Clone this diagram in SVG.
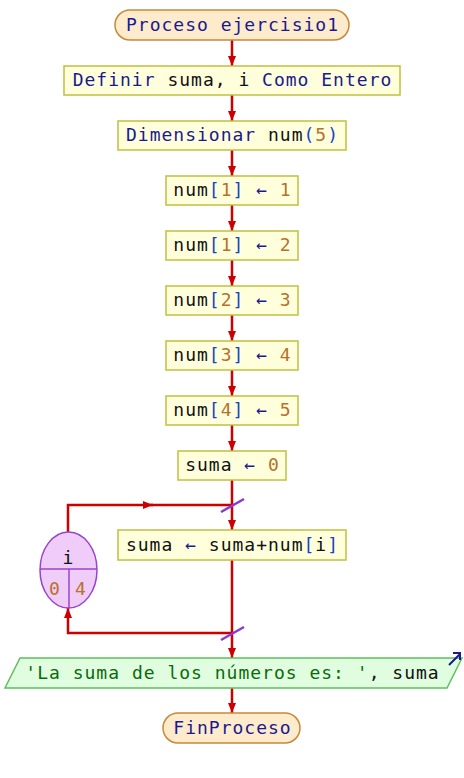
<svg xmlns="http://www.w3.org/2000/svg" width="464" height="778" viewBox="0 0 464 778">
  <defs>
    <marker id="ah" markerWidth="10" markerHeight="8" refX="10" refY="4" orient="auto" markerUnits="userSpaceOnUse">
      <path d="M0,0 L10,4 L0,8 Z" fill="#cc0000"/>
    </marker>
  </defs>
  <style>
    text { font-family: "DejaVu Sans Mono", "Liberation Mono", monospace; font-size: 18px; letter-spacing: 1px; }
    .term { fill: #fdebcb; stroke: #c8883a; stroke-width: 1.5; }
    .proc { fill: #ffffdc; stroke: #c0c040; stroke-width: 1.5; }
    .io { fill: #e0fde0; stroke: #5cc05c; stroke-width: 1.5; }
    .loop { fill: #f0ccf8; stroke: #9a44cc; stroke-width: 1.5; }
    .kw { fill: #1a1a90; }
    .id { fill: #111111; }
    .num { fill: #b8702c; }
    .br { fill: #1a44c0; }
    .str { fill: #0a6a0a; }
    .flow { fill: none; stroke: #cc0000; stroke-width: 2.5; }
    .cut { stroke: #8a3acc; stroke-width: 2.5; }
  </style>

  <g id="connectors">
    <path class="flow" d="M232,40 V66" marker-end="url(#ah)"/>
    <path class="flow" d="M232,95 V121" marker-end="url(#ah)"/>
    <path class="flow" d="M232,150 V176" marker-end="url(#ah)"/>
    <path class="flow" d="M232,205 V231" marker-end="url(#ah)"/>
    <path class="flow" d="M232,260 V286" marker-end="url(#ah)"/>
    <path class="flow" d="M232,315 V341" marker-end="url(#ah)"/>
    <path class="flow" d="M232,370 V396" marker-end="url(#ah)"/>
    <path class="flow" d="M232,425 V451" marker-end="url(#ah)"/>
    <path class="flow" d="M232,480 V530" marker-end="url(#ah)"/>
    <path class="flow" d="M232,560 V658" marker-end="url(#ah)"/>
    <path class="flow" d="M232,688 V713" marker-end="url(#ah)"/>
    <path class="flow" d="M68,532 V505 H153" marker-end="url(#ah)"/>
    <path class="flow" d="M150,505 H232"/>
    <path class="flow" d="M232,633 H68 V608" marker-end="url(#ah)"/>
    <line class="cut" x1="221" y1="512" x2="244" y2="499"/>
    <line class="cut" x1="221" y1="640" x2="244" y2="627"/>
  </g>

  <g id="inicio">
    <rect class="term" x="115" y="10" width="234" height="30" rx="15"/>
    <text x="232.5" y="31" text-anchor="middle" class="kw">Proceso ejercisio1</text>
  </g>

  <g id="definir">
    <rect class="proc" x="64" y="66" width="336" height="29"/>
    <text x="232.5" y="86" text-anchor="middle"><tspan class="kw">Definir </tspan><tspan class="id">suma, i </tspan><tspan class="kw">Como Entero</tspan></text>
  </g>

  <g id="dimensionar">
    <rect class="proc" x="118" y="121" width="228" height="29"/>
    <text x="232.5" y="141" text-anchor="middle"><tspan class="kw">Dimensionar </tspan><tspan class="id">num</tspan><tspan class="br">(</tspan><tspan class="num">5</tspan><tspan class="br">)</tspan></text>
  </g>

  <g id="asig1">
    <rect class="proc" x="166" y="176" width="132" height="29"/>
    <text x="232.5" y="196" text-anchor="middle"><tspan class="id">num</tspan><tspan class="br">[</tspan><tspan class="num">1</tspan><tspan class="br">]</tspan><tspan class="kw"> ← </tspan><tspan class="num">1</tspan></text>
  </g>

  <g id="asig2">
    <rect class="proc" x="166" y="231" width="132" height="29"/>
    <text x="232.5" y="251" text-anchor="middle"><tspan class="id">num</tspan><tspan class="br">[</tspan><tspan class="num">1</tspan><tspan class="br">]</tspan><tspan class="kw"> ← </tspan><tspan class="num">2</tspan></text>
  </g>

  <g id="asig3">
    <rect class="proc" x="166" y="286" width="132" height="29"/>
    <text x="232.5" y="306" text-anchor="middle"><tspan class="id">num</tspan><tspan class="br">[</tspan><tspan class="num">2</tspan><tspan class="br">]</tspan><tspan class="kw"> ← </tspan><tspan class="num">3</tspan></text>
  </g>

  <g id="asig4">
    <rect class="proc" x="166" y="341" width="132" height="29"/>
    <text x="232.5" y="361" text-anchor="middle"><tspan class="id">num</tspan><tspan class="br">[</tspan><tspan class="num">3</tspan><tspan class="br">]</tspan><tspan class="kw"> ← </tspan><tspan class="num">4</tspan></text>
  </g>

  <g id="asig5">
    <rect class="proc" x="166" y="396" width="132" height="29"/>
    <text x="232.5" y="416" text-anchor="middle"><tspan class="id">num</tspan><tspan class="br">[</tspan><tspan class="num">4</tspan><tspan class="br">]</tspan><tspan class="kw"> ← </tspan><tspan class="num">5</tspan></text>
  </g>

  <g id="suma0">
    <rect class="proc" x="178" y="451" width="108" height="29"/>
    <text x="232.5" y="471" text-anchor="middle"><tspan class="id">suma</tspan><tspan class="kw"> ← </tspan><tspan class="num">0</tspan></text>
  </g>

  <g id="acumular">
    <rect class="proc" x="118" y="530" width="228" height="30"/>
    <text x="232.5" y="551" text-anchor="middle"><tspan class="id">suma</tspan><tspan class="kw"> ← </tspan><tspan class="id">suma+num</tspan><tspan class="br">[</tspan><tspan class="id">i</tspan><tspan class="br">]</tspan></text>
  </g>

  <g id="para">
    <ellipse class="loop" cx="68.5" cy="570" rx="28.5" ry="38"/>
    <line x1="40" y1="569" x2="97" y2="569" stroke="#9a44cc" stroke-width="1.5"/>
    <line x1="69" y1="569" x2="69" y2="608" stroke="#9a44cc" stroke-width="1.5"/>
    <text x="68.5" y="564" text-anchor="middle" class="id">i</text>
    <text x="55" y="595" text-anchor="middle" class="num">0</text>
    <text x="81" y="595" text-anchor="middle" class="num">4</text>
  </g>

  <g id="escribir">
    <polygon class="io" points="20,658 462,658 447,688 5,688"/>
    <text x="232.5" y="679" text-anchor="middle"><tspan class="str">'La suma de los números es: '</tspan><tspan class="id">, suma</tspan></text>
    <path d="M449,665 L460,654 M453,653 H460 V660" fill="none" stroke="#1a1a90" stroke-width="2"/>
  </g>

  <g id="fin">
    <rect class="term" x="163" y="713" width="137" height="30" rx="15"/>
    <text x="232.5" y="734" text-anchor="middle" class="kw">FinProceso</text>
  </g>
</svg>
